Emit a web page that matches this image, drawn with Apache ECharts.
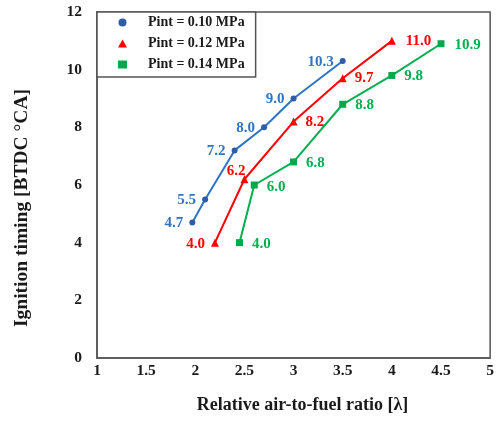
<!DOCTYPE html>
<html>
<head>
<meta charset="utf-8">
<script src="https://cdn.jsdelivr.net/npm/echarts@6/dist/echarts.min.js"></script>
<style>
  html, body { margin: 0; padding: 0; background: #fff; }
  #chart { width: 497px; height: 421px; }
</style>
</head>
<body>
<div id="chart"></div>
<script>
// Relative air-to-fuel ratio (lambda) and ignition timing for each intake pressure
const lambda010 = [1.97, 2.1, 2.4, 2.7, 3.0, 3.5];
const timing010 = [4.7, 5.5, 7.2, 8.0, 9.0, 10.3];

const lambda012 = [2.2, 2.5, 3.0, 3.5, 4.0];
const timing012 = [4.0, 6.2, 8.2, 9.7, 11.0];

const lambda014 = [2.45, 2.6, 3.0, 3.5, 4.0, 4.5];
const timing014 = [4.0, 6.0, 6.8, 8.8, 9.8, 10.9];

const seriesNames = ['Pint = 0.10 MPa', 'Pint = 0.12 MPa', 'Pint = 0.14 MPa'];

const xTicks = { min: 1, max: 5, step: 0.5 };
const yTicks = { min: 0, max: 12, step: 2 };

const FONT = "'Liberation Serif', 'Times New Roman', serif";

function pairs(xs, ys) {
  return xs.map((x, i) => [x, ys[i]]);
}

// Build point items; label side chosen per point so labels clear the lines
function points(xs, ys, sides, offsets) {
  return pairs(xs, ys).map((p, i) => ({
    value: p,
    label: {
      position: sides[i],
      offset: offsets ? offsets[i] : [0, 1]
    }
  }));
}

function lineSeries(name, data, lineColor, markerColor, symbol, size, labelColor) {
  return {
    name: name,
    type: 'line',
    data: data,
    symbol: symbol,
    symbolSize: size,
    showAllSymbol: true,
    lineStyle: { color: lineColor, width: 2 },
    itemStyle: { color: markerColor },
    emphasis: { disabled: true },
    label: {
      show: true,
      distance: 6,
      color: labelColor,
      fontFamily: FONT,
      fontWeight: 'bold',
      fontSize: 15,
      formatter: p => p.value[1].toFixed(1)
    },
    z: 3
  };
}

const chart = echarts.init(document.getElementById('chart'), null, { renderer: 'canvas' });

chart.setOption({
  animation: false,
  backgroundColor: '#ffffff',
  grid: {
    left: 97, right: 6, top: 12, bottom: 63,
    show: true,
    borderColor: '#555555',
    borderWidth: 1.5,
    backgroundColor: 'transparent'
  },
  legend: {
    orient: 'vertical',
    left: 97,
    top: 12,
    data: [
      { name: seriesNames[0], icon: 'circle' },
      { name: seriesNames[1], icon: 'triangle' },
      { name: seriesNames[2], icon: 'rect' }
    ],
    itemWidth: 9,
    itemHeight: 8,
    itemGap: 6,
    padding: [3, 11, 5, 21],
    borderColor: '#555555',
    borderWidth: 1.5,
    backgroundColor: '#ffffff',
    selectedMode: false,
    textStyle: {
      fontFamily: FONT,
      fontWeight: 'bold',
      fontSize: 14,
      color: '#1a1a1a',
      lineHeight: 15,
      padding: [0, 0, 0, 16]
    },
    z: 5
  },
  xAxis: {
    type: 'value',
    min: xTicks.min,
    max: xTicks.max,
    interval: xTicks.step,
    name: 'Relative air-to-fuel ratio [λ]',
    nameLocation: 'middle',
    nameGap: 38,
    nameTextStyle: {
      fontFamily: FONT, fontWeight: 'bold', fontSize: 18, color: '#1a1a1a',
      padding: [0, 0, 0, 18]
    },
    axisLine: { show: true, lineStyle: { color: '#555555', width: 1.5 } },
    axisTick: { show: false },
    splitLine: { show: false },
    axisLabel: {
      margin: 5,
      fontFamily: FONT, fontWeight: 'bold', fontSize: 15.5, color: '#1a1a1a'
    }
  },
  yAxis: {
    type: 'value',
    min: yTicks.min,
    max: yTicks.max,
    interval: yTicks.step,
    name: 'Ignition timing [BTDC °CA]',
    nameLocation: 'middle',
    nameGap: 65,
    nameTextStyle: {
      fontFamily: FONT, fontWeight: 'bold', fontSize: 19.5, color: '#1a1a1a',
      padding: [0, 46, 0, 0]
    },
    axisLine: { show: true, lineStyle: { color: '#555555', width: 1.5 } },
    axisTick: { show: false },
    splitLine: { show: false },
    axisLabel: {
      margin: 15,
      fontFamily: FONT, fontWeight: 'bold', fontSize: 15.5, color: '#1a1a1a'
    }
  },
  series: [
    lineSeries(
      seriesNames[0],
      points(lambda010, timing010, ['left', 'left', 'left', 'left', 'left', 'left']),
      '#2E75C4', '#2F5BA8', 'circle', 6, '#2E75C4'
    ),
    lineSeries(
      seriesNames[1],
      points(lambda012, timing012, ['left', 'left', 'right', 'right', 'right'],
        [[0, 1], [11, -8], [2, 1], [2, 0], [4, 0]]),
      '#FF0000', '#FF0000', 'triangle', 8, '#FF0000'
    ),
    lineSeries(
      seriesNames[2],
      points(lambda014, timing014, ['right', 'right', 'right', 'right', 'right', 'right'],
        [[3, 1], [3, 2], [3, 1], [3, 1], [3, 1], [4, 1]]),
      '#00B050', '#00A84C', 'rect', 7, '#00B050'
    )
  ]
});
</script>
</body>
</html>
